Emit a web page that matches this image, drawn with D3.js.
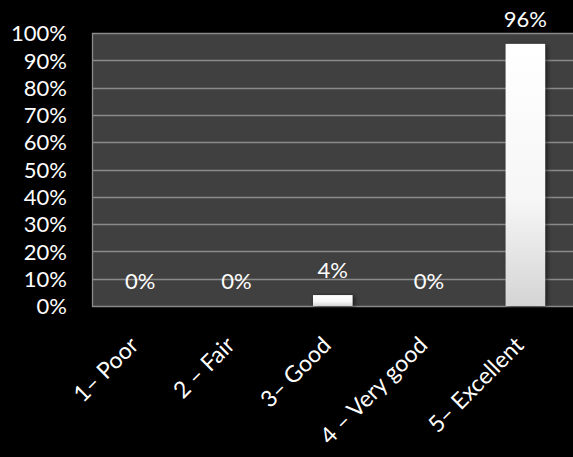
<!DOCTYPE html>
<html><head><meta charset="utf-8">
<script src="https://cdn.jsdelivr.net/npm/d3@7"></script>
<style>html,body{margin:0;padding:0;background:#000;}svg{display:block;}</style>
</head><body>
<svg id="c" width="573" height="457"></svg>
<script>
const categories = ["1\u2013 Poor", "2 \u2013 Fair", "3\u2013 Good", "4 \u2013 Very good", "5\u2013 Excellent"];
const values = [0, 0, 0.04, 0, 0.96];
const valueLabels = ["0%", "0%", "4%", "0%", "96%"];
const yTicks = [0, 0.1, 0.2, 0.3, 0.4, 0.5, 0.6, 0.7, 0.8, 0.9, 1.0];

const svg = d3.select("#c");
const font = "Lato, 'Open Sans', sans-serif";
const fs = 22;
const m = {left: 92, top: 33, right: 573.5, bottom: 306};
const x = d3.scaleBand().domain(categories).range([m.left, m.right]).paddingInner(0.59).paddingOuter(0.295);
const y = d3.scaleLinear().domain([0, 1]).range([m.bottom, m.top]);

const defs = svg.append("defs");
const g = defs.append("linearGradient").attr("id", "bg").attr("x1", 0).attr("y1", 0).attr("x2", 0).attr("y2", 1);
g.append("stop").attr("offset", "0%").attr("stop-color", "#ffffff");
g.append("stop").attr("offset", "60%").attr("stop-color", "#f6f6f6");
g.append("stop").attr("offset", "100%").attr("stop-color", "#d4d4d4");
const f = defs.append("filter").attr("id", "sh").attr("x", "-30%").attr("y", "-10%").attr("width", "160%").attr("height", "120%");
f.append("feDropShadow").attr("dx", 2).attr("dy", 1).attr("stdDeviation", 2.5).attr("flood-color", "#000").attr("flood-opacity", 0.6);

svg.append("rect").attr("x", m.left).attr("y", m.top).attr("width", m.right - m.left).attr("height", m.bottom - m.top).attr("fill", "#404040");

svg.append("g").selectAll("line").data(yTicks).join("line")
  .attr("x1", m.left).attr("x2", m.right).attr("y1", d => Math.round(y(d)) + 0.5).attr("y2", d => Math.round(y(d)) + 0.5)
  .attr("stroke", "#8a8a8a").attr("stroke-width", 1.3);
svg.append("line").attr("x1", m.left + 0.5).attr("x2", m.left + 0.5).attr("y1", m.top).attr("y2", m.bottom + 1).attr("stroke", "#8a8a8a").attr("stroke-width", 1.3);

const yAxis = d3.axisLeft(y).tickValues(yTicks).tickFormat(d3.format(".0%")).tickSize(0).tickPadding(0);
const ya = svg.append("g").attr("transform", `translate(67,0)`).call(yAxis);
ya.select(".domain").remove();
ya.selectAll("text").attr("fill", "#fff").attr("font-family", font).attr("font-size", fs).attr("dy", "0.35em");

svg.append("g").selectAll("rect").data(values).join("rect")
  .attr("x", (d, i) => x(categories[i])).attr("width", x.bandwidth())
  .attr("y", d => y(d)).attr("height", d => y(0) - y(d))
  .attr("fill", "url(#bg)").attr("filter", "url(#sh)");

svg.append("g").selectAll("text").data(values).join("text")
  .attr("x", (d, i) => x(categories[i]) + x.bandwidth() / 2)
  .attr("y", d => y(d) - 17)
  .attr("text-anchor", "middle").attr("fill", "#fff").attr("font-family", font).attr("font-size", fs)
  .text((d, i) => valueLabels[i]);

const xAxis = d3.axisBottom(x).tickSize(0).tickPadding(0);
const xa = svg.append("g").attr("transform", `translate(0,${m.bottom})`).call(xAxis);
xa.select(".domain").remove();
xa.selectAll("text").attr("fill", "#fff").attr("font-family", font).attr("font-size", 23)
  .attr("text-anchor", "end").attr("dy", "0.35em")
  .attr("transform", "translate(-6,35) rotate(-45)");
</script>
</body></html>
